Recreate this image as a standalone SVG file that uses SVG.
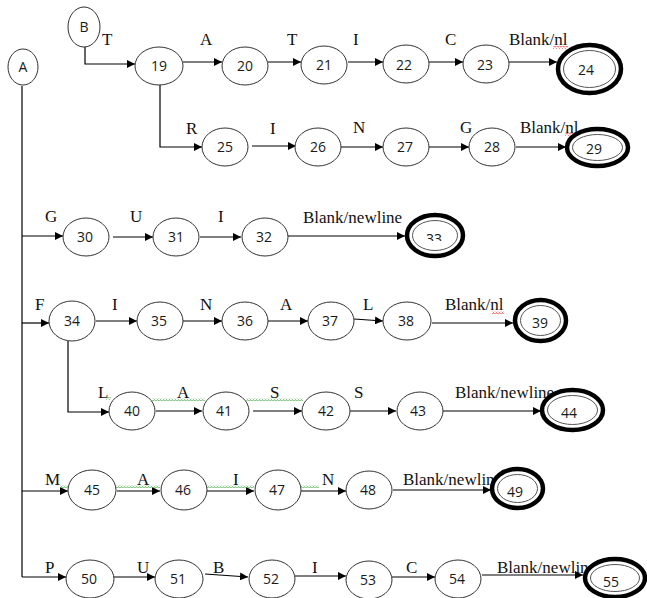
<svg xmlns="http://www.w3.org/2000/svg" width="647" height="598" viewBox="0 0 647 598">
  <style>
    .st { fill: #fff; stroke: #333; stroke-width: 1; }
    .acc-o { fill: #fff; stroke: #000; stroke-width: 4.5; }
    .acc-i { fill: none; stroke: #555; stroke-width: 1; }
    .num { font-family: "Open Sans", "DejaVu Sans", sans-serif; font-size: 14px; fill: #1a1a1a; text-anchor: middle; }
    .lbl { font-family: "Liberation Serif", "Times New Roman", serif; font-size: 17px; fill: #111; }
    .edge { fill: none; stroke: #000; stroke-width: 1.2; marker-end: url(#arrow); }
    .branch { fill: none; stroke: #000; stroke-width: 1.2; }
  </style>
  <defs>
    <marker id="arrow" viewBox="0 0 10 10" refX="10" refY="5" markerWidth="8" markerHeight="8" markerUnits="userSpaceOnUse" orient="auto">
      <path d="M0,0 L10,5 L0,10 z" fill="#000"/>
    </marker>
    <pattern id="wavyG" width="3" height="3" patternUnits="userSpaceOnUse">
      <path d="M0,2.5 L1.5,0.5 L3,2.5" fill="none" stroke="#4a4" stroke-width="0.8"/>
    </pattern>
    <pattern id="wavyR" width="3" height="3" patternUnits="userSpaceOnUse">
      <path d="M0,2.5 L1.5,0.5 L3,2.5" fill="none" stroke="#e33" stroke-width="0.8"/>
    </pattern>
    <clipPath id="clip33"><rect x="420" y="225" width="30" height="16"/></clipPath>
  </defs>

  <!-- transitions -->
  <g id="connectors">
    <!-- start B -->
    <path class="edge" d="M85,47 V64 H135"/>
    <line class="edge" x1="183" y1="62" x2="222" y2="62"/>
    <line class="edge" x1="268" y1="62" x2="301" y2="62"/>
    <line class="edge" x1="348" y1="62" x2="383" y2="62"/>
    <line class="edge" x1="429" y1="62" x2="463" y2="62"/>
    <line class="edge" x1="509" y1="62" x2="557" y2="62"/>
    <path class="edge" d="M160,85 V147 H202"/>
    <line class="edge" x1="252" y1="146" x2="296" y2="146"/>
    <line class="edge" x1="341" y1="147" x2="383" y2="147"/>
    <line class="edge" x1="429" y1="147" x2="469" y2="147"/>
    <line class="edge" x1="516" y1="147" x2="566" y2="147"/>
    <!-- start A trunk -->
    <path class="branch" d="M22,86 V577"/>
    <line class="edge" x1="22" y1="236" x2="63" y2="236"/>
    <line class="edge" x1="113" y1="237" x2="153" y2="237"/>
    <line class="edge" x1="200" y1="237" x2="241" y2="237"/>
    <line class="edge" x1="288" y1="236" x2="405" y2="236"/>
    <line class="edge" x1="22" y1="323" x2="49" y2="323"/>
    <line class="edge" x1="96" y1="321" x2="137" y2="321"/>
    <line class="edge" x1="183" y1="321" x2="222" y2="321"/>
    <line class="edge" x1="268" y1="321" x2="308" y2="321"/>
    <line class="edge" x1="354" y1="319" x2="383" y2="321"/>
    <line class="edge" x1="432" y1="323" x2="513" y2="323"/>
    <path class="edge" d="M68,341 V412 H109"/>
    <line class="edge" x1="156" y1="411" x2="202" y2="411"/>
    <line class="edge" x1="253" y1="411" x2="302" y2="411"/>
    <line class="edge" x1="350" y1="411" x2="396" y2="411"/>
    <line class="edge" x1="443" y1="411" x2="541" y2="411"/>
    <line class="edge" x1="22" y1="491" x2="68" y2="491"/>
    <line class="edge" x1="117" y1="491" x2="160" y2="491"/>
    <line class="edge" x1="207" y1="491" x2="254" y2="491"/>
    <line class="edge" x1="301" y1="491" x2="346" y2="491"/>
    <line class="edge" x1="393" y1="490" x2="491" y2="490"/>
    <line class="edge" x1="22" y1="577" x2="66" y2="577"/>
    <line class="edge" x1="113" y1="577" x2="155" y2="577"/>
    <line class="edge" x1="205" y1="574" x2="248" y2="577"/>
    <line class="edge" x1="295" y1="576" x2="346" y2="576"/>
    <line class="edge" x1="392" y1="577" x2="435" y2="577"/>
    <line class="edge" x1="482" y1="575" x2="583" y2="575"/>
  </g>

  <!-- edge labels -->
  <g id="labels">
    <text class="lbl" x="102" y="45">T</text>
    <text class="lbl" x="200" y="45">A</text>
    <text class="lbl" x="287" y="45">T</text>
    <text class="lbl" x="353" y="45">I</text>
    <text class="lbl" x="445" y="45">C</text>
    <text class="lbl" x="509" y="45">Blank/nl</text>
    <text class="lbl" x="186" y="134">R</text>
    <text class="lbl" x="270" y="134">I</text>
    <text class="lbl" x="353" y="133">N</text>
    <text class="lbl" x="460" y="133">G</text>
    <text class="lbl" x="520" y="133">Blank/nl</text>
    <text class="lbl" x="45" y="222">G</text>
    <text class="lbl" x="130" y="222">U</text>
    <text class="lbl" x="218" y="222">I</text>
    <text class="lbl" x="303" y="223">Blank/newline</text>
    <text class="lbl" x="35" y="310">F</text>
    <text class="lbl" x="112" y="310">I</text>
    <text class="lbl" x="200" y="310">N</text>
    <text class="lbl" x="280" y="310">A</text>
    <text class="lbl" x="363" y="310">L</text>
    <text class="lbl" x="445" y="310">Blank/nl</text>
    <text class="lbl" x="98" y="398">L</text>
    <text class="lbl" x="177" y="398">A</text>
    <text class="lbl" x="270" y="398">S</text>
    <text class="lbl" x="354" y="398">S</text>
    <text class="lbl" x="455" y="398">Blank/newline</text>
    <text class="lbl" x="45" y="485">M</text>
    <text class="lbl" x="137" y="485">A</text>
    <text class="lbl" x="233" y="485">I</text>
    <text class="lbl" x="322" y="485">N</text>
    <text class="lbl" x="403" y="485">Blank/newlin</text>
    <text class="lbl" x="45" y="573">P</text>
    <text class="lbl" x="137" y="573">U</text>
    <text class="lbl" x="213" y="573">B</text>
    <text class="lbl" x="312" y="573">I</text>
    <text class="lbl" x="406" y="573">C</text>
    <text class="lbl" x="497" y="573">Blank/newlin</text>
  </g>

  <!-- proofing squiggles under some labels -->
  <g id="squiggles">
    <rect x="553" y="46" width="15" height="3" fill="url(#wavyR)"/>
    <rect x="565" y="133" width="9" height="3" fill="url(#wavyR)"/>
    <rect x="492" y="311" width="12" height="3" fill="url(#wavyR)"/>
    <rect x="106" y="397" width="5" height="3" fill="url(#wavyG)"/>
    <rect x="152" y="398" width="53" height="3" fill="url(#wavyG)"/>
    <rect x="246" y="398" width="57" height="3" fill="url(#wavyG)"/>
    <rect x="60" y="485" width="9" height="3" fill="url(#wavyG)"/>
    <rect x="116" y="485" width="44" height="3" fill="url(#wavyG)"/>
    <rect x="207" y="485" width="47" height="3" fill="url(#wavyG)"/>
    <rect x="301" y="485" width="18" height="3" fill="url(#wavyG)"/>
  </g>

  <!-- start states -->
  <g id="node-A"><ellipse class="st" cx="23" cy="67" rx="15" ry="18"/><text class="num" x="23" y="72">A</text></g>
  <g id="node-B"><ellipse class="st" cx="84" cy="27" rx="16" ry="20"/><text class="num" x="84" y="32">B</text></g>

  <!-- states -->
  <g id="node-19"><ellipse class="st" cx="159" cy="66" rx="24" ry="19"/><text class="num" x="159" y="71">19</text></g>
  <g id="node-20"><ellipse class="st" cx="245" cy="66" rx="23" ry="19"/><text class="num" x="245" y="71">20</text></g>
  <g id="node-21"><ellipse class="st" cx="324" cy="65" rx="23" ry="19"/><text class="num" x="324" y="70">21</text></g>
  <g id="node-22"><ellipse class="st" cx="406" cy="64" rx="23" ry="19"/><text class="num" x="404" y="70">22</text></g>
  <g id="node-23"><ellipse class="st" cx="486" cy="64" rx="23" ry="19"/><text class="num" x="485" y="70">23</text></g>
  <g id="node-24"><ellipse class="acc-o" cx="589.5" cy="69" rx="31.5" ry="24"/><ellipse class="acc-i" cx="589.5" cy="69" rx="26" ry="18.5"/><text class="num" x="586" y="75">24</text></g>

  <g id="node-25"><ellipse class="st" cx="225" cy="147" rx="23" ry="19"/><text class="num" x="225" y="152">25</text></g>
  <g id="node-26"><ellipse class="st" cx="318" cy="147" rx="23" ry="19"/><text class="num" x="318" y="152">26</text></g>
  <g id="node-27"><ellipse class="st" cx="406" cy="147" rx="23" ry="19"/><text class="num" x="405" y="152">27</text></g>
  <g id="node-28"><ellipse class="st" cx="492" cy="147" rx="23" ry="19"/><text class="num" x="492" y="152">28</text></g>
  <g id="node-29"><ellipse class="acc-o" cx="597.5" cy="147.5" rx="30.5" ry="18.5"/><ellipse class="acc-i" cx="597.5" cy="147.5" rx="25" ry="13"/><text class="num" x="594" y="154">29</text></g>

  <g id="node-30"><ellipse class="st" cx="86" cy="237" rx="23" ry="19"/><text class="num" x="85" y="242">30</text></g>
  <g id="node-31"><ellipse class="st" cx="176" cy="237" rx="23" ry="19"/><text class="num" x="176" y="242">31</text></g>
  <g id="node-32"><ellipse class="st" cx="265" cy="237" rx="23" ry="19"/><text class="num" x="264" y="242">32</text></g>
  <g id="node-33"><ellipse class="acc-o" cx="435" cy="235.5" rx="28" ry="20.5"/><ellipse class="acc-i" cx="435" cy="235.5" rx="22.5" ry="15"/><text class="num" x="434" y="244" clip-path="url(#clip33)">33</text></g>

  <g id="node-34"><ellipse class="st" cx="72" cy="321" rx="23" ry="20"/><text class="num" x="72" y="326">34</text></g>
  <g id="node-35"><ellipse class="st" cx="160" cy="321" rx="23" ry="19"/><text class="num" x="159" y="326">35</text></g>
  <g id="node-36"><ellipse class="st" cx="245" cy="321" rx="23" ry="19"/><text class="num" x="245" y="326">36</text></g>
  <g id="node-37"><ellipse class="st" cx="331" cy="321" rx="23" ry="19"/><text class="num" x="330" y="326">37</text></g>
  <g id="node-38"><ellipse class="st" cx="407" cy="321" rx="24" ry="19"/><text class="num" x="406" y="326">38</text></g>
  <g id="node-39"><ellipse class="acc-o" cx="540.5" cy="320.5" rx="25.5" ry="20.5"/><ellipse class="acc-i" cx="540.5" cy="320.5" rx="20" ry="15"/><text class="num" x="540" y="328">39</text></g>

  <g id="node-40"><ellipse class="st" cx="132" cy="411" rx="23" ry="19"/><text class="num" x="132" y="416">40</text></g>
  <g id="node-41"><ellipse class="st" cx="226" cy="411" rx="23" ry="19"/><text class="num" x="224" y="416">41</text></g>
  <g id="node-42"><ellipse class="st" cx="326" cy="411" rx="24" ry="19"/><text class="num" x="326" y="416">42</text></g>
  <g id="node-43"><ellipse class="st" cx="420" cy="411" rx="23" ry="19"/><text class="num" x="418" y="416">43</text></g>
  <g id="node-44"><ellipse class="acc-o" cx="572.5" cy="410" rx="30.5" ry="20"/><ellipse class="acc-i" cx="572.5" cy="410" rx="25" ry="14.5"/><text class="num" x="569" y="418">44</text></g>

  <g id="node-45"><ellipse class="st" cx="92" cy="490" rx="24" ry="20"/><text class="num" x="92" y="495">45</text></g>
  <g id="node-46"><ellipse class="st" cx="184" cy="490" rx="23" ry="20"/><text class="num" x="183" y="495">46</text></g>
  <g id="node-47"><ellipse class="st" cx="278" cy="490" rx="23" ry="20"/><text class="num" x="277" y="495">47</text></g>
  <g id="node-48"><ellipse class="st" cx="369" cy="490" rx="23" ry="19"/><text class="num" x="368" y="495">48</text></g>
  <g id="node-49"><ellipse class="acc-o" cx="517.5" cy="488.5" rx="25.5" ry="19.5"/><ellipse class="acc-i" cx="517.5" cy="488.5" rx="20" ry="14"/><text class="num" x="515" y="497">49</text></g>

  <g id="node-50"><ellipse class="st" cx="90" cy="579" rx="24" ry="19"/><text class="num" x="89" y="584">50</text></g>
  <g id="node-51"><ellipse class="st" cx="179" cy="579" rx="24" ry="19"/><text class="num" x="178" y="584">51</text></g>
  <g id="node-52"><ellipse class="st" cx="272" cy="579" rx="23" ry="19"/><text class="num" x="271" y="584">52</text></g>
  <g id="node-53"><ellipse class="st" cx="369" cy="580" rx="23" ry="19"/><text class="num" x="368" y="585">53</text></g>
  <g id="node-54"><ellipse class="st" cx="458" cy="579" rx="23" ry="19"/><text class="num" x="457" y="584">54</text></g>
  <g id="node-55"><ellipse class="acc-o" cx="615" cy="578" rx="30" ry="19"/><ellipse class="acc-i" cx="615" cy="578" rx="24.5" ry="13.5"/><text class="num" x="611" y="587">55</text></g>
</svg>
